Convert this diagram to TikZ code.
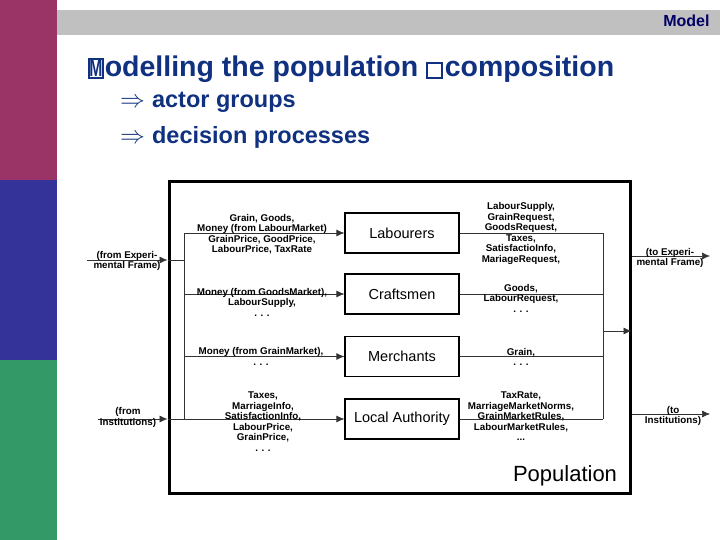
\documentclass[tikz,border=0pt]{standalone}
\usepackage{fontspec}
\setmainfont{Liberation Sans}
\usepackage{graphicx}
\usetikzlibrary{arrows.meta}
\definecolor{barplum}{RGB}{155,52,102}
\definecolor{barblue}{RGB}{51,51,153}
\definecolor{bargreen}{RGB}{51,153,102}
\definecolor{bandgray}{RGB}{192,192,192}
\definecolor{titleblue}{RGB}{16,48,128}
\definecolor{headnavy}{RGB}{0,0,102}
\newcommand{\glyphbox}[3]{{\setlength{\fboxsep}{0pt}\setlength{\fboxrule}{1.8pt}\fbox{\makebox[#1]{\rule{0pt}{#2}#3}}}}

\begin{document}
\begin{tikzpicture}[x=1pt, y=-1pt,
    actor/.style={rectangle, draw, line width=1.2pt, minimum width=114pt, minimum height=40pt, inner sep=0pt, font=\fontsize{14.5}{16}\selectfont},
    flow/.style={align=center, inner sep=0pt, font=\bfseries\fontsize{9.8}{10.5}\selectfont},
    link/.style={draw=black!80, line width=0.7pt},
    arrow/.style={link, -{Latex[length=8pt,width=7pt]}}
]
    \useasboundingbox (0,0) rectangle (720,540);
    % slide frame
    \fill[barplum] (0,0) rectangle (57,180);
    \fill[barblue] (0,180) rectangle (57,360);
    \fill[bargreen] (0,360) rectangle (57,540);
    \fill[bandgray] (57,10) rectangle (720,35);
    \node[anchor=base east, text=headnavy, font=\bfseries\fontsize{16}{18}\selectfont] (head) at (713,27) {Model};
    \node[anchor=base west, text=titleblue, inner sep=0pt, font=\bfseries\fontsize{28.5}{30}\selectfont] (title) at (88,77)
        {\glyphbox{12pt}{17pt}{\scalebox{0.55}[0.85]{M}}\hspace{1pt}odelling the population \glyphbox{13pt}{13pt}{}\hspace{2pt}composition};
    \node[anchor=base west, text=titleblue, inner sep=0pt, font=\bfseries\fontsize{23.5}{26}\selectfont] (item1) at (120,108) {$\Rightarrow$\hspace{7pt}actor groups};
    \node[anchor=base west, text=titleblue, inner sep=0pt, font=\bfseries\fontsize{23.5}{26}\selectfont] (item2) at (120,144) {$\Rightarrow$\hspace{7pt}decision processes};

    % population
    \node[rectangle, draw, line width=3pt, minimum width=461pt, minimum height=311pt, inner sep=0pt] (pop) at (399.5,337.5) {};
    \node[font=\fontsize{22}{24}\selectfont, inner sep=0pt] (poplabel) at (565,476) {Population};

    \node[actor] (lab) at (402,233) {Labourers};
    \node[actor] (craft) at (402,294) {Craftsmen};
    \node[actor] (merch) at (402,356.5) {Merchants};
    \node[actor] (auth) at (402,419) {Local Authority};

    \coordinate (lbus) at (184,233);
    \coordinate (lbusend) at (184,419);
    \coordinate (rbus) at (603,233);
    \coordinate (rbusend) at (603,419);
    \coordinate (rbusout) at (603,331);
    \coordinate (srcexp) at (87,260);
    \coordinate (srcinst) at (98,419);
    \coordinate (dstexp) at (710,256);
    \coordinate (dstinst) at (710,414);

    \draw[link] (lbus) -- (lbusend);
    \draw[link] (rbus) -- (rbusend);
    \foreach \n in {lab,craft,merch,auth} {
        \draw[arrow] (lbus |- \n) -- (\n);
        \draw[link] (\n) -- (rbus |- \n);
    }
    \draw[arrow] (srcexp) -- (srcexp -| pop.west);
    \draw[link] (srcexp -| pop.west) -- (srcexp -| lbus);
    \draw[arrow] (srcinst) -- (srcinst -| pop.west);
    \draw[link] (srcinst -| pop.west) -- (srcinst -| lbus);
    \draw[arrow] (rbusout) -- (rbusout -| pop.east);
    \draw[arrow] (pop.east |- dstexp) -- (dstexp);
    \draw[arrow] (pop.east |- dstinst) -- (dstinst);

    % flow labels
    \node[flow] (labin) at (262,234) {Grain, Goods,\\Money (from LabourMarket)\\GrainPrice, GoodPrice,\\LabourPrice, TaxRate};
    \node[flow] (labout) at (521,233.5) {LabourSupply,\\GrainRequest,\\GoodsRequest,\\Taxes,\\SatisfactioInfo,\\MariageRequest,};
    \node[flow] (craftin) at (262,302) {Money (from GoodsMarket),\\LabourSupply,\\. . .};
    \node[flow] (craftout) at (521,298) {Goods,\\LabourRequest,\\. . .};
    \node[flow] (merchin) at (261,356.5) {Money (from GrainMarket),\\. . .};
    \node[flow] (merchout) at (521,357) {Grain,\\. . .};
    \node[flow] (authin) at (263,421.5) {Taxes,\\MarriageInfo,\\SatisfactionInfo,\\LabourPrice,\\GrainPrice,\\. . .};
    \node[flow] (authout) at (521,416.5) {TaxRate,\\MarriageMarketNorms,\\GrainMarketRules,\\LabourMarketRules,\\...};
    \node[flow] (expin) at (127,261) {(from Experi-\\mental Frame)};
    \node[flow] (instin) at (128,417.5) {(from\\Institutions)};
    \node[flow] (expout) at (670,258) {(to Experi-\\mental Frame)};
    \node[flow] (instout) at (673,416) {(to\\Institutions)};
\end{tikzpicture}
\end{document}
